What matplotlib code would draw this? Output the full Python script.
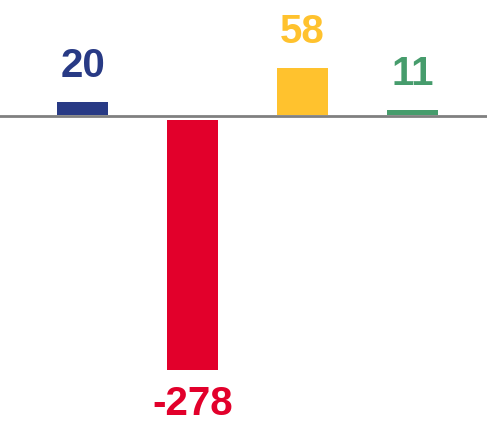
import matplotlib.pyplot as plt

# data
categories = ["A", "B", "C", "D"]
values = [20, -278, 58, 11]
colors = ["#283a85", "#e2002b", "#ffc22e", "#469c6c"]

plt.rcParams['font.family'] = ['Liberation Sans', 'DejaVu Sans']

fig = plt.figure(figsize=(4.87, 4.26), dpi=100)
ax = fig.add_axes([0, 0, 1, 1])

x = list(range(len(categories)))
bars = ax.bar(x, values, width=0.455, color=colors, zorder=1)

# white gap below the baseline and the gray zero line
ax.axhspan(0, 5.6, color="white", zorder=2, lw=0)
ax.axhline(3.9, color="#808080", lw=2, zorder=3)

for xi, v, c in zip(x, values, colors):
    if v >= 0:
        ax.annotate(str(v), (xi, v), xytext=(0, 18), textcoords="offset points",
                    ha="center", va="baseline", fontsize=29, fontweight="bold", color=c)
    else:
        ax.annotate(str(v), (xi, v), xytext=(0, -11), textcoords="offset points",
                    ha="center", va="top", fontsize=29, fontweight="bold", color=c)

ax.set_xlim(-0.75, 3.677)
ax.set_ylim(-340, 133.3)
ax.axis("off")

fig.savefig("out.png", dpi=100)
